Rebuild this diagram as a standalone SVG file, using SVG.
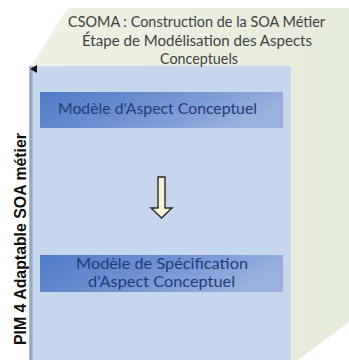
<svg xmlns="http://www.w3.org/2000/svg" width="349" height="360" viewBox="0 0 349 360">
<defs>
<linearGradient id="side" x1="0" y1="0" x2="1" y2="0">
<stop offset="0" stop-color="#eff1e3"/>
<stop offset="1" stop-color="#e6ecdc"/>
</linearGradient>
<linearGradient id="boxg" x1="0" y1="0" x2="1" y2="0.3">
<stop offset="0" stop-color="#4e7ac6"/>
<stop offset="0.55" stop-color="#7393d2"/>
<stop offset="1" stop-color="#9ab0de"/>
</linearGradient>
<marker id="ah" markerWidth="8" markerHeight="8" refX="4" refY="1" orient="auto-start-reverse" markerUnits="userSpaceOnUse">
<path d="M0,7 L4,0 L8,7 Z" fill="#111"/>
</marker>
<style>
.title{font-family:Lato,"Open Sans","Liberation Sans",sans-serif;font-size:14.5px;fill:#3f3f3f;text-anchor:middle}
.bt{font-family:Lato,"Open Sans","Liberation Sans",sans-serif;font-size:14.5px;fill:#1e3c78;text-anchor:middle}
.axis{font-family:"Liberation Sans","Arial",sans-serif;font-size:16px;font-weight:bold;fill:#111;text-anchor:middle}
.box{fill:url(#boxg)}
</style>
</defs>
<rect width="349" height="360" fill="#ffffff"/>
<g id="cube">
<polygon points="31,66 68,8 349,8 349,322 298,360 291,360 291,66" fill="url(#side)"/>
<rect x="31" y="66" width="260" height="294" fill="#c6d6ec"/>
<rect x="29" y="66" width="4" height="294" fill="#a9b6d0"/>
</g>
<g id="title">
<text class="title" x="196.5" y="27" textLength="257" lengthAdjust="spacingAndGlyphs">CSOMA : Construction de la SOA Métier</text>
<text class="title" x="197" y="46" textLength="230" lengthAdjust="spacingAndGlyphs">Étape de Modélisation des Aspects</text>
<text class="title" x="199" y="64" textLength="78" lengthAdjust="spacingAndGlyphs">Conceptuels</text>
</g>
<g id="node1">
<rect class="box" x="40" y="92" width="243" height="36"/>
<text class="bt" x="157.5" y="114" textLength="199" lengthAdjust="spacingAndGlyphs">Modèle d'Aspect Conceptuel</text>
</g>
<g id="node2">
<rect class="box" x="40" y="255" width="243" height="37"/>
<text class="bt" x="162" y="269" textLength="172" lengthAdjust="spacingAndGlyphs">Modèle de Spécification</text>
<text class="bt" x="161.5" y="287" textLength="147" lengthAdjust="spacingAndGlyphs">d'Aspect Conceptuel</text>
</g>
<g id="connectors">
<path d="M158,177 L165,177 L165,208 L172,208 L161.5,218 L151,208 L158,208 Z" fill="#f4f4dc" stroke="#2a2a2a" stroke-width="1.4" stroke-linejoin="miter"/>
<line x1="31" y1="360" x2="31" y2="69" stroke="#8e9bb3" stroke-width="1" marker-end="url(#ah)"/>
</g>
<g id="axis-label">
<text class="axis" transform="translate(26,239) rotate(-90)" textLength="212" lengthAdjust="spacingAndGlyphs">PIM 4 Adaptable SOA métier</text>
</g>
</svg>
